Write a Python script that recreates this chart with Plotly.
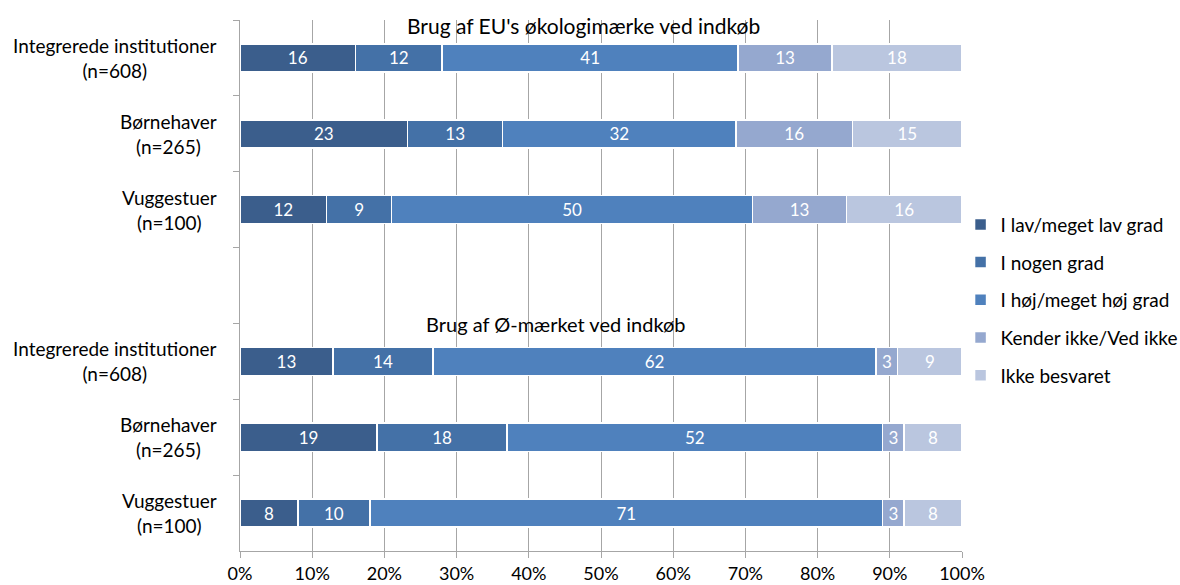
import plotly.graph_objects as go

groups = ["Brug af EU's økologimærke ved indkøb", "Brug af Ø-mærket ved indkøb"]
institutions = ["Integrerede institutioner<br>(n=608)", "Børnehaver<br>(n=265)", "Vuggestuer<br>(n=100)"]
series = ["I lav/meget lav grad", "I nogen grad", "I høj/meget høj grad", "Kender ikke/Ved ikke", "Ikke besvaret"]
colors = ["#3B5E8C", "#4471A7", "#4F81BD", "#95A8CF", "#BAC6DF"]

# values per series: [EU int, EU børn, EU vugge, Ø int, Ø børn, Ø vugge]
lav = [16, 23, 12, 13, 19, 8]
nogen = [12, 13, 9, 14, 18, 10]
hoej = [41, 32, 50, 62, 52, 71]
kender = [13, 16, 13, 3, 3, 3]
ikke = [18, 15, 16, 9, 8, 8]
values = [lav, nogen, hoej, kender, ikke]

ycats = [f"{g}|{i}" for g in groups for i in institutions]
order = ycats[:3] + ["gap"] + ycats[3:]

FONT = "Lato"
fig = go.Figure()
for name, vals, col in zip(series, values, colors):
    fig.add_trace(go.Bar(
        y=ycats, x=vals, name=name, orientation="h",
        marker=dict(color=col, line=dict(color="white", width=1.5)),
        text=vals, texttemplate="%{text}", textposition="inside",
        insidetextanchor="middle", textangle=0,
        textfont=dict(color="white", size=17, family=FONT),
        legendgroup=name,
    ))

annotations = []
for c in ycats:
    annotations.append(dict(
        x=0, xref="paper", xshift=-21, xanchor="right", y=c, yref="y", yanchor="middle",
        text=c.split("|")[1], showarrow=False, align="center",
        font=dict(size=19, family=FONT, color="#000"),
    ))
annotations.append(dict(x=47.6, xref="x", y=0.99, yref="paper", yanchor="middle", text=groups[0],
                        showarrow=False, font=dict(size=21, family=FONT, color="#000")))
annotations.append(dict(x=43.8, xref="x", y=0.4275, yref="paper", yanchor="middle", text=groups[1],
                        showarrow=False, font=dict(size=20, family=FONT, color="#000")))

fig.update_layout(
    barmode="stack", barnorm="percent", bargap=0.63,
    width=1180, height=585,
    margin=dict(l=240, r=218, t=20, b=34, autoexpand=False),
    paper_bgcolor="white", plot_bgcolor="white",
    font=dict(family=FONT, color="#000"),
    annotations=annotations,
    legend=dict(x=0.998, xanchor="left", y=0.6506, yanchor="top",
                bgcolor="rgba(0,0,0,0)",
                font=dict(size=19, family=FONT, color="#000"),
                traceorder="grouped", tracegroupgap=10, itemclick=False),
    xaxis=dict(range=[0, 100], tickvals=list(range(0, 101, 10)),
               ticktext=[f"{v}%" for v in range(0, 101, 10)],
               showgrid=True, gridcolor="#A6A6A6", gridwidth=1,
               showline=True, linecolor="#A6A6A6", linewidth=1,
               ticks="outside", ticklen=6, tickcolor="#A6A6A6",
               tickfont=dict(size=18, family=FONT, color="#000"),
               zeroline=False, fixedrange=True, automargin=False),
    yaxis=dict(type="category", categoryorder="array", categoryarray=order,
               autorange="reversed", showticklabels=False,
               ticks="outside", tickson="boundaries", ticklen=6, tickcolor="#A6A6A6",
               showline=True, linecolor="#A6A6A6", linewidth=1,
               showgrid=False, zeroline=False, fixedrange=True, automargin=False),
)

fig.write_html("out.html", config={"displayModeBar": False},
               post_script="document.body.style.margin='0';document.body.style.overflow='hidden';")
